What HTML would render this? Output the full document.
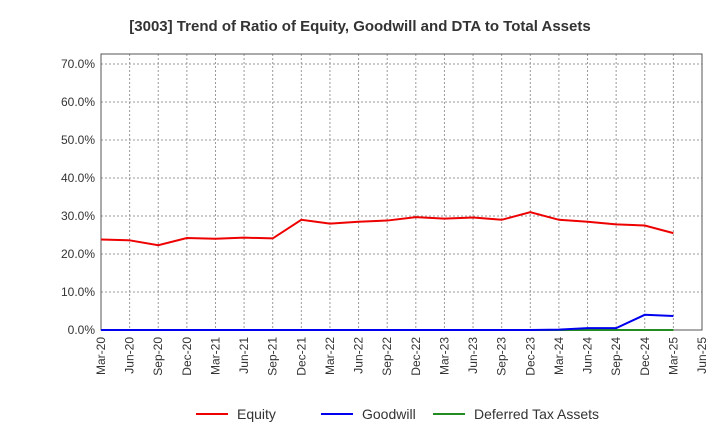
<!DOCTYPE html>
<html><head><meta charset="utf-8"><style>
body{margin:0;background:#fff;font-family:"Liberation Sans",sans-serif}
</style></head><body>
<svg id="c" width="720" height="440" xmlns="http://www.w3.org/2000/svg"></svg>
<script>
const categories=["Mar-20","Jun-20","Sep-20","Dec-20","Mar-21","Jun-21","Sep-21","Dec-21","Mar-22","Jun-22","Sep-22","Dec-22","Mar-23","Jun-23","Sep-23","Dec-23","Mar-24","Jun-24","Sep-24","Dec-24","Mar-25","Jun-25"];
const equity=[23.8,23.6,22.3,24.2,24.0,24.3,24.1,29.0,28.0,28.5,28.8,29.7,29.3,29.6,29.0,31.0,29.0,28.5,27.8,27.5,25.5];
const goodwill=[0,0,0,0,0,0,0,0,0,0,0,0,0,0,0,0,0.1,0.5,0.5,4.0,3.7];
const dta=[0,0,0,0,0,0,0,0,0,0,0,0,0,0,0,0,0,0,0,0,0];
const yTicks=[0,10,20,30,40,50,60,70];
const NS="http://www.w3.org/2000/svg",svg=document.getElementById('c');
const L=101,R=702,T=54,B=330;
const x=i=>L+i*(R-L)/(categories.length-1);
const y=v=>B-v*3.8;
function el(t,a,p){const e=document.createElementNS(NS,t);for(const k in a)e.setAttribute(k,a[k]);(p||svg).appendChild(e);return e;}
const title=el('text',{x:360,y:31,'text-anchor':'middle','font-size':15,'font-weight':'bold',fill:'#333'});

title.textContent="[3003]  Trend of Ratio of Equity, Goodwill and DTA to Total Assets";
yTicks.forEach(v=>{
 const g=el('line',{x1:L,x2:R,y1:y(v),y2:y(v),stroke:'#999','stroke-dasharray':'2,2'});
 
 const t=el('text',{x:L-6,y:y(v)+4,'text-anchor':'end','font-size':12,fill:'#333'});
 
 t.textContent=v.toFixed(1)+'%';
});
categories.forEach((c,i)=>{
 const g=el('line',{x1:x(i),x2:x(i),y1:T,y2:B,stroke:'#999','stroke-dasharray':'2,2'});
 
 const t=el('text',{x:0,y:0,'text-anchor':'end','font-size':12,fill:'#333',transform:`translate(${x(i)+4},${B+7}) rotate(-90)`});
 
 t.textContent=c;
});
const frame=el('rect',{x:L,y:T,width:R-L,height:B-T,fill:'none',stroke:'#555'});

[[dta,'#228b22','dta-line'],[goodwill,'#0000ee','goodwill-line'],[equity,'#ee0000','equity-line']].forEach(([d,col,n])=>{
 const p=el('polyline',{points:d.map((v,i)=>x(i)+','+y(v)).join(' '),fill:'none',stroke:col,'stroke-width':2});
 
});
[["Equity",'#ee0000',196],["Goodwill",'#0000ee',321],["Deferred Tax Assets",'#228b22',433]].forEach(([n,col,lx])=>{
 const g=el('g',{});
 el('line',{x1:lx,x2:lx+32,y1:414,y2:414,stroke:col,'stroke-width':2},g);
 const t=el('text',{x:lx+41,y:419,'font-size':14,fill:'#333'},g);t.textContent=n;
});
</script>
</body></html>
